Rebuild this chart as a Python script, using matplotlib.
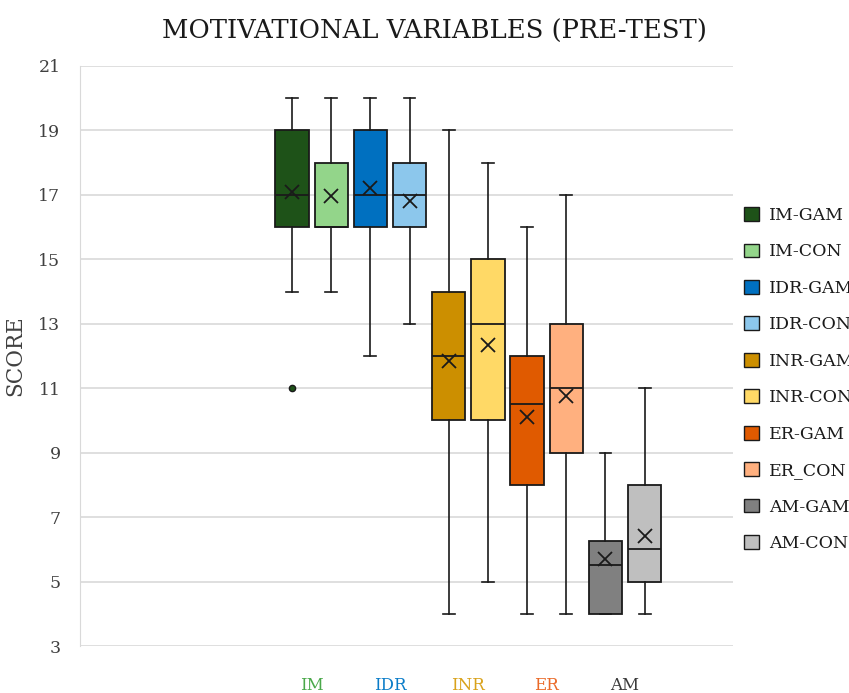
import matplotlib
matplotlib.use("Agg")
import matplotlib.pyplot as plt
from matplotlib.patches import Patch

plt.rcParams['font.family'] = ['DejaVu Serif']

# box statistics
series = ["IM-GAM", "IM-CON", "IDR-GAM", "IDR-CON", "INR-GAM",
          "INR-CON", "ER-GAM", "ER_CON", "AM-GAM", "AM-CON"]
whislo = [14, 14, 12, 13, 4, 5, 4, 4, 4, 4]
q1 = [16, 16, 16, 16, 10, 10, 8, 9, 4, 5]
med = [17, 16, 17, 17, 12, 13, 10.5, 11, 5.5, 6]
q3 = [19, 18, 19, 18, 14, 15, 12, 13, 6.25, 8]
whishi = [20, 20, 20, 20, 19, 18, 16, 17, 9, 11]
means = [17.1, 16.95, 17.2, 16.8, 11.85, 12.35, 10.1, 10.75, 5.7, 6.4]
fliers = [[11], [], [], [], [], [], [], [], [], []]
colors = ["#1e5218", "#93d58a", "#0070c0", "#8cc7ec", "#cc8f00",
          "#ffd966", "#e05a00", "#ffb07f", "#808080", "#bfbfbf"]

groups = ["IM", "IDR", "INR", "ER", "AM"]
group_colors = ["#4aa84a", "#0a7cc8", "#d9a21b", "#ea6a28", "#3a3a3a"]

stats = []
for i in range(len(series)):
    stats.append(dict(label=series[i], whislo=whislo[i], q1=q1[i], med=med[i],
                      q3=q3[i], whishi=whishi[i], mean=means[i], fliers=fliers[i]))

fig = plt.figure(figsize=(8.49, 6.93), dpi=100)
ax = fig.add_axes([0.0942, 0.0678, 0.769, 0.837])

positions = list(range(len(series)))
edge = "#1a1a1a"
bp = ax.bxp(stats, positions=positions, widths=0.85, showmeans=True,
            patch_artist=True, capwidths=0.3,
            boxprops=dict(edgecolor=edge, linewidth=1.3),
            medianprops=dict(color=edge, linewidth=1.3),
            whiskerprops=dict(color=edge, linewidth=1.2),
            capprops=dict(color=edge, linewidth=1.2),
            meanprops=dict(marker="x", markeredgecolor=edge, markersize=10,
                           markeredgewidth=1.3),
            flierprops=dict(marker="o", markerfacecolor="#1e5218",
                            markeredgecolor=edge, markersize=4.5))
for patch, c in zip(bp["boxes"], colors):
    patch.set_facecolor(c)

ax.set_xlim(-5.41, 11.25)
ax.set_ylim(3, 21)
ax.set_yticks(range(3, 22, 2))
ax.yaxis.grid(True, color="#d9d9d9", linewidth=1.2)
ax.set_axisbelow(True)
ax.tick_params(axis="y", length=0, pad=14, labelsize=12.5, labelcolor="#404040")
ax.set_xticks([])
for s in ["top", "right", "bottom"]:
    ax.spines[s].set_visible(False)
ax.spines["left"].set_color("#d9d9d9")
ax.set_ylabel("SCORE", fontsize=15.5, color="#404040", labelpad=9)

for j, g in enumerate(groups):
    ax.text(2 * j + 0.5, 3 - 1.22, g, ha="center", va="center",
            fontsize=12, color=group_colors[j])

fig.text(434 / 849, 1 - 31 / 693, "MOTIVATIONAL VARIABLES (PRE-TEST)",
         ha="center", va="center", fontsize=18.6, color="#1a1a1a")

handles = [Patch(facecolor=c, edgecolor=edge, linewidth=1.0) for c in colors]
fig.legend(handles, series, loc="upper left", bbox_to_anchor=(744 / 849, 1 - 207 / 693),
           frameon=False, fontsize=12.5, handlelength=0.85, handleheight=0.85,
           handletextpad=0.6, labelspacing=1.12, labelcolor="#1a1a1a",
           borderaxespad=0, borderpad=0)

fig.savefig("out.png", dpi=100)
